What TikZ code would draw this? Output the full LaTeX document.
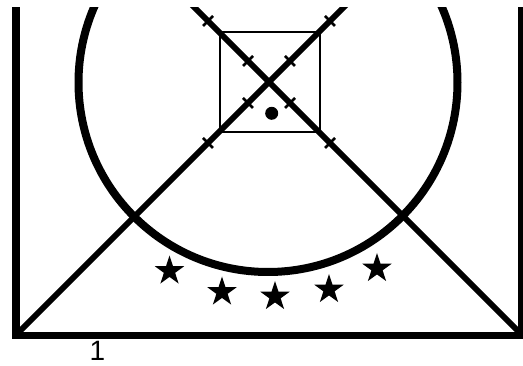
\documentclass[tikz,border=0pt]{standalone}
\usepackage{fontspec}
\setmainfont{Liberation Sans}
\usetikzlibrary{shapes.geometric,calc}
\begin{document}
\begin{tikzpicture}[x=1pt,y=-1pt,
  frame/.style={line width=7.5pt,line join=miter},
  diag/.style={line width=6pt},
  ring/.style={line width=8pt},
  thin/.style={line width=2.5pt},
  tickmark/.style={line width=2.5pt},
  starmark/.style={star,star points=5,star point ratio=2.618,minimum size=31pt,inner sep=0pt,fill=black,draw=none}]
\useasboundingbox (0,0) rectangle (523,366);
\coordinate (C) at (269,82);
\begin{scope}
  \clip (0,8) rectangle (530,366);
  % court frame
  \draw[frame] (15.8,0) -- (15.8,335.5) -- (522,335.5) -- (522,0);
  % circle
  \draw[ring] (268,82.5) circle[radius=189.5];
  % diagonals
  \coordinate (BL) at (16,335);
  \coordinate (BR) at (522,335);
  \coordinate (TL) at (169,-18);
  \coordinate (TR) at (369,-18);
  \draw[diag] (TL) -- (BR);
  \draw[diag] (BL) -- (TR);
  % square
  \draw[thin] (220,32) rectangle (320,132);
  % ticks on both diagonals
  \foreach \t in {-61,-21,21,61}{
    \draw[tickmark] ($(C)+(\t,\t)+(-5,5)$) -- ($(C)+(\t,\t)+(5,-5)$);
    \draw[tickmark] ($(C)+(\t,-\t)+(-5,-5)$) -- ($(C)+(\t,-\t)+(5,5)$);
  }
\end{scope}
% dot
\fill (271.7,113.3) circle[radius=6.5];
% stars
\node[starmark] (s1) at (169.5,271) {};
\node[starmark] (s2) at (222,292) {};
\node[starmark] (s3) at (275,296.5) {};
\node[starmark] (s4) at (329,289.5) {};
\node[starmark] (s5) at (377,268.5) {};
% label
\node[anchor=base,inner sep=0pt,font=\fontsize{28}{30}\selectfont] (lab) at (97.5,361) {1};
\end{tikzpicture}
\end{document}
